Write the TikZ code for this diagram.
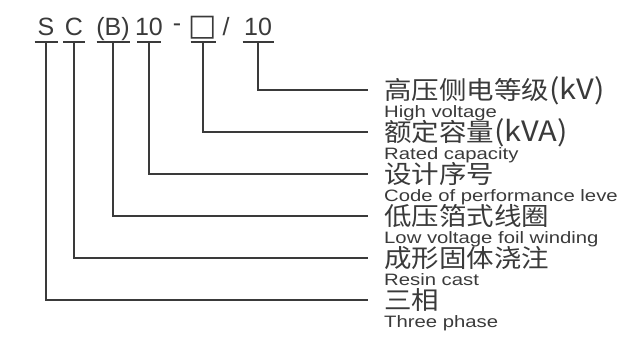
\documentclass[tikz,border=0pt]{standalone}
\usepackage{fontspec}
\setmainfont{Liberation Sans}
\newfontfamily\cjkfont[FakeStretch=1.1]{Noto Sans CJK SC}
\newfontfamily\enfont[FakeStretch=1.23]{Liberation Sans}
\newfontfamily\boxfont{DejaVu Sans}
\definecolor{ink}{HTML}{3A3A3A}
\newcommand{\kvunit}[1]{{\fontsize{28}{28}\selectfont #1}}
\newcommand{\capbox}{{\boxfont\fontsize{30}{30}\selectfont □}}
\tikzset{
  wire/.style={draw=ink, line width=1.4pt},
  code/.style={font=\fontsize{25}{25}\selectfont, text=ink, text height=18pt, text depth=0pt, inner sep=0pt, anchor=base},
  zh/.style={font=\cjkfont\fontsize{25}{25}\selectfont, text=ink, anchor=west, text height=21pt, text depth=2pt, inner xsep=16pt, inner ysep=0pt},
  en/.style={font=\enfont\fontsize{16.5}{16.5}\selectfont, text=ink, anchor=base west, inner xsep=16pt, inner ysep=0pt}
}

\begin{document}
\begin{tikzpicture}[x=1pt, y=-1pt]
        \useasboundingbox (0,0) rectangle (617,337);
        \node[code] (codeDash) at (177,31) {-};
        \node[code] (codeSlash) at (226,35) {/};

        \foreach \id/\x/\w/\code/\y/\zh/\en in {
            S/46/11.5/S/300/三相/Three phase,
            C/74/11/C/258/成形固体浇注/Resin cast,
            B/113/16.5/(B)/216/低压箔式线圈/Low voltage foil winding,
            N/149/12/10/174/设计序号/Code of performance level,
            Q/203/12.5/{\capbox}/132/额定容量\kvunit{(kVA)}/Rated capacity,
            V/258/15.5/10/90/高压侧电等级\kvunit{(kV)}/High voltage} {
            \node[code] (code\id) at (\x,35) {\code};
            \coordinate (u\id) at ([yshift=-7pt]code\id.base);
            \node[zh] (zh\id) at (368,\y) {\zh};
            \node[en, yshift=-17.5pt] (en\id) at (zh\id.base west) {\en};
            \draw[wire] ([xshift=-\w pt]u\id) -- ([xshift=\w pt]u\id);
            \draw[wire] (u\id) |- (zh\id.west);
        }
    \end{tikzpicture}
\end{document}
